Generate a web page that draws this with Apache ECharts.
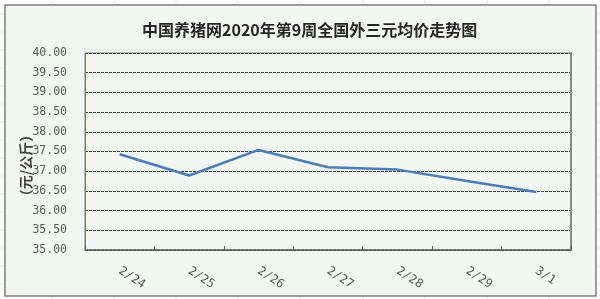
<!DOCTYPE html>
<html><head><meta charset="utf-8">
<style>html,body{margin:0;padding:0;background:#fff;}#c{width:600px;height:299px;}</style>
<script src="https://cdn.jsdelivr.net/npm/echarts@6/dist/echarts.min.js"></script>
</head><body><div id="c"></div>
<script>
var titleText = '中国养猪网2020年第9周全国外三元均价走势图';
var categories = ['2/24','2/25','2/26','2/27','2/28','2/29','3/1'];
var prices = [37.43, 36.89, 37.54, 37.10, 37.04, 36.75, 36.47];
var yName = '（元/公斤）';
var yMin = 35, yMax = 40, yStep = 0.5;

var chart = echarts.init(document.getElementById('c'));
var sheetLines = [];
[52,114,176,238,300,363,425,487,549].forEach(function(x){
  sheetLines.push({type:'line', z:-100, shape:{x1:x,y1:0,x2:x,y2:4}, style:{stroke:'#dde2e6',lineWidth:1}});
  sheetLines.push({type:'line', z:-100, shape:{x1:x,y1:297,x2:x,y2:299}, style:{stroke:'#dde2e6',lineWidth:1}});
});
[14,32,50,68,86,104,122,140,158,176,194,212,230,248,266,284].forEach(function(y){
  sheetLines.push({type:'line', z:-100, shape:{x1:0,y1:y,x2:4,y2:y}, style:{stroke:'#dde2e6',lineWidth:1}});
  sheetLines.push({type:'line', z:-100, shape:{x1:597,y1:y,x2:600,y2:y}, style:{stroke:'#dde2e6',lineWidth:1}});
});
chart.setOption({
  backgroundColor: '#ffffff',
  animation: false,
  graphic: { elements: [
    {type:'rect', z:-100, shape:{x:5,y:5,width:591,height:291}, style:{fill:'#f4f6f3', stroke:'#7f7f7f', lineWidth:1.5}}
  ].concat(sheetLines) },
  title: {
    text: titleText, left: 142, top: 22, padding: 0,
    textStyle: {fontFamily: 'Noto Sans CJK SC', fontSize: 16, fontWeight: 'bold', color: '#262626'}
  },
  grid: {left: 85, right: 29, top: 53, bottom: 49, show: true, borderColor: '#7f7f7f', borderWidth: 1, backgroundColor: 'transparent'},
  xAxis: {
    type: 'category', data: categories, boundaryGap: true,
    axisLine: {lineStyle: {color: '#606060', width: 1.5}},
    axisTick: {show: true, inside: true, length: 4, lineStyle: {color: '#606060'}},
    axisLabel: {rotate: -33, margin: 20, color: '#595959', fontFamily: 'DejaVu Sans Mono', fontSize: 12},
    splitLine: {show: false}
  },
  yAxis: [{
    type: 'value', min: yMin, max: yMax, interval: yStep,
    name: yName, nameLocation: 'middle', nameGap: 52, nameMoveOverlap: false,
    nameTextStyle: {fontFamily: 'Noto Sans CJK SC', fontSize: 14, fontWeight: 'bold', color: '#404040', padding: [0, 28, 0, 0]},
    axisLine: {show: true, lineStyle: {color: '#5b8c45', width: 1}},
    axisTick: {show: false},
    axisLabel: {margin: 18, color: '#595959', fontFamily: 'DejaVu Sans Mono', fontSize: 11.5,
      formatter: function(v){ return v.toFixed(2); }},
    splitLine: {show: true, lineStyle: {color: '#404040', type: [3, 1], width: 1}}
  }, {
    type: 'value', min: yMin, max: yMax, interval: yStep, position: 'right',
    axisLine: {show: true, lineStyle: {color: '#888888', width: 2}},
    axisTick: {show: false}, axisLabel: {show: false}, splitLine: {show: false}
  }],
  series: [{
    type: 'line', data: prices, yAxisIndex: 0, symbol: 'none',
    lineStyle: {color: '#4a7ebb', width: 2.5}
  }]
});
</script></body></html>
